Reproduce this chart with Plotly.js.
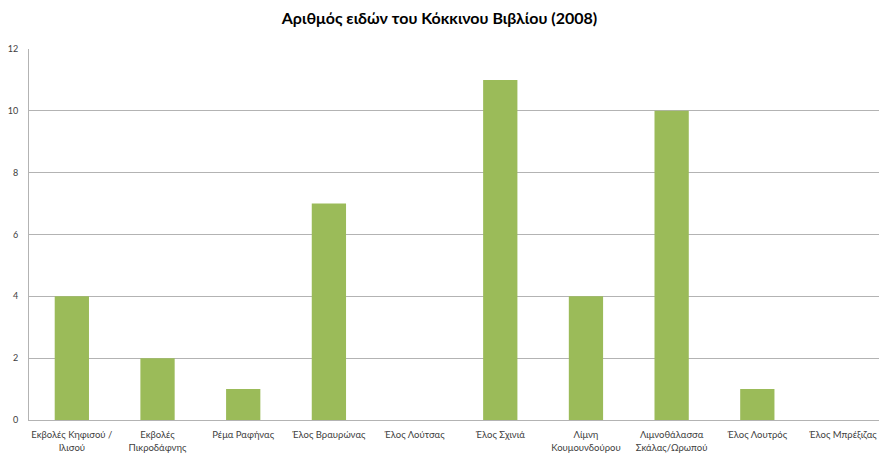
<!DOCTYPE html>
<html><head><meta charset="utf-8">
<script src="https://cdn.plot.ly/plotly-3.0.1.min.js"></script>
<style>html,body{margin:0;padding:0;background:#fff}</style>
</head><body>
<div id="chart" style="width:879px;height:453px"></div>
<script>
const categories = ["Εκβολές Κηφισού /<br>Ιλισού","Εκβολές<br>Πικροδάφνης","Ρέμα Ραφήνας","Έλος Βραυρώνας","Έλος Λούτσας","Έλος Σχινιά","Λίμνη<br>Κουμουνδούρου","Λιμνοθάλασσα<br>Σκάλας/Ωρωπού","Έλος Λουτρός","Έλος Μπρέξιζας"];
const values = [4, 2, 1, 7, 0, 11, 4, 10, 1, 0];
const yTicks = [0, 2, 4, 6, 8, 10, 12];
const titleText = "Αριθμός ειδών του Κόκκινου Βιβλίου (2008)";

Plotly.newPlot("chart", [{
  type: "bar",
  x: categories,
  y: values,
  marker: {color: "#9BBB59"},
  hoverinfo: "x+y"
}], {
  width: 879, height: 453,
  margin: {l: 29, r: 0, t: 49, b: 33},
  paper_bgcolor: "#fff", plot_bgcolor: "#fff",
  bargap: 0.6,
  font: {family: "Lato, 'Open Sans', sans-serif", color: "#404040"},
  title: {text: "<b>" + titleText + "</b>", x: 0.5, xanchor: "center", y: 0.96, yanchor: "middle",
          font: {size: 16, color: "#000", family: "Lato, 'Open Sans', sans-serif"}},
  xaxis: {type: "category", range: [-0.5, 9.42], showgrid: false, showline: true, linecolor: "#B3B3B3", linewidth: 1,
          ticks: "", tickfont: {size: 9.5, color: "#404040"}, tickangle: 0, ticklabelstandoff: 6, automargin: false},
  yaxis: {range: [0, 12], tickvals: yTicks, showgrid: true, gridcolor: "#B3B3B3", gridwidth: 1,
          showline: true, linecolor: "#B3B3B3", linewidth: 1, zeroline: false, ticks: "",
          tickfont: {size: 9, color: "#404040"}, ticklabelstandoff: 8, automargin: false},
  showlegend: false
}, {displayModeBar: false});
</script>
</body></html>
